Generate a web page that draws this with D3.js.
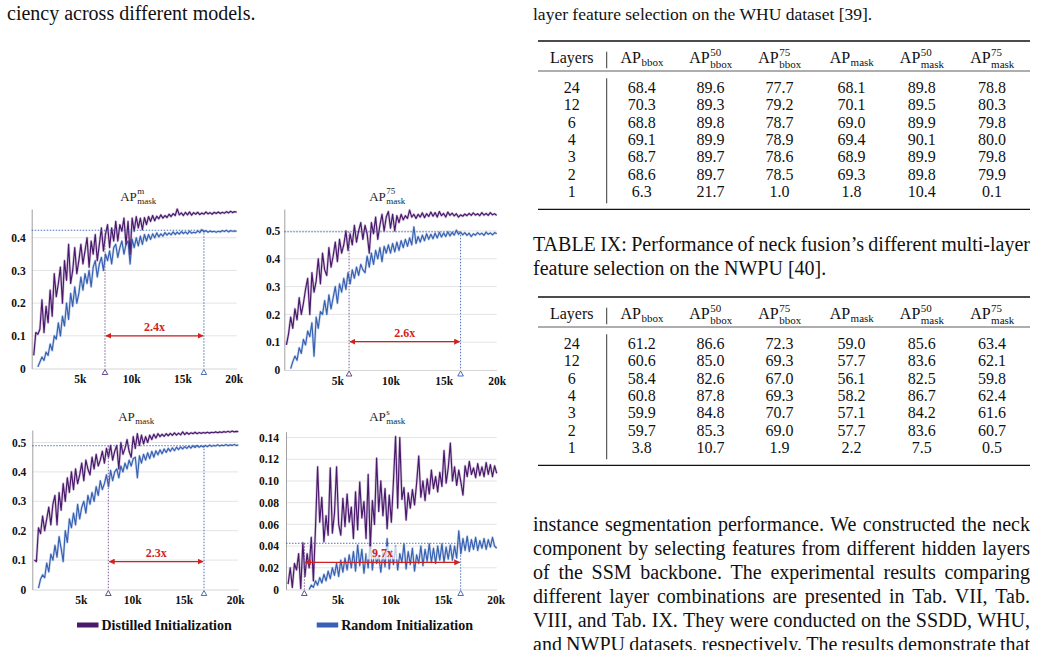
<!DOCTYPE html>
<html>
<head>
<meta charset="utf-8">
<script src="https://cdn.jsdelivr.net/npm/d3@7"></script>
<style>
  html, body { margin: 0; padding: 0; background: #fff; }
  svg { display: block; }
</style>
</head>
<body>
<svg id="page" width="1042" height="650"></svg>
<script>
const SERIF = '"Liberation Serif", "Times New Roman", serif';
const PURPLE = "#4a196c";
const BLUE = "#3761b2";
const RED = "#d21f1f";

// evaluation step (k iterations)
const ITER_K = [
  0.2, 0.4, 0.6, 0.8, 1.0, 1.2, 1.4, 1.6, 1.8, 2.0,
  2.2, 2.4, 2.6, 2.8, 3.0, 3.2, 3.4, 3.6, 3.8, 4.0,
  4.2, 4.4, 4.6, 4.8, 5.0, 5.2, 5.4, 5.6, 5.8, 6.0,
  6.2, 6.4, 6.6, 6.8, 7.0, 7.2, 7.4, 7.6, 7.8, 8.0,
  8.2, 8.4, 8.6, 8.8, 9.0, 9.2, 9.4, 9.6, 9.8, 10.0,
  10.2, 10.4, 10.6, 10.8, 11.0, 11.2, 11.4, 11.6, 11.8, 12.0,
  12.2, 12.4, 12.6, 12.8, 13.0, 13.2, 13.4, 13.6, 13.8, 14.0,
  14.2, 14.4, 14.6, 14.8, 15.0, 15.2, 15.4, 15.6, 15.8, 16.0,
  16.2, 16.4, 16.6, 16.8, 17.0, 17.2, 17.4, 17.6, 17.8, 18.0,
  18.2, 18.4, 18.6, 18.8, 19.0, 19.2, 19.4, 19.6, 19.8, 20.0
];

// AP^m_mask
const mapDistilled = [
  0.04, 0.11, 0.105, 0.12, 0.21, 0.11, 0.19, 0.14, 0.24, 0.16,
  0.29, 0.22, 0.26, 0.31, 0.20, 0.33, 0.27, 0.38, 0.26, 0.30,
  0.37, 0.29, 0.33, 0.38, 0.32, 0.36, 0.40, 0.31, 0.39, 0.35,
  0.41, 0.33, 0.38, 0.43, 0.36, 0.41, 0.44, 0.37, 0.43, 0.39,
  0.45, 0.39, 0.44, 0.42, 0.46, 0.38, 0.45, 0.35, 0.46, 0.42,
  0.465, 0.43, 0.46, 0.425, 0.462, 0.44, 0.465, 0.45, 0.468, 0.452,
  0.466, 0.458, 0.47, 0.46, 0.468, 0.462, 0.472, 0.465, 0.474, 0.468,
  0.488, 0.47, 0.476, 0.468, 0.478, 0.47, 0.479, 0.469, 0.477, 0.472,
  0.478, 0.471, 0.476, 0.472, 0.479, 0.473, 0.477, 0.472, 0.478, 0.474,
  0.479, 0.474, 0.478, 0.475, 0.48, 0.476, 0.481, 0.477, 0.48, 0.478
];
const mapRandom = [
  null, null, 0.005, 0.02, 0.035, 0.025, 0.05, 0.04, 0.075, 0.055,
  0.10, 0.09, 0.14, 0.10, 0.16, 0.13, 0.20, 0.15, 0.23, 0.19,
  0.25, 0.20, 0.23, 0.28, 0.24, 0.29, 0.26, 0.30, 0.25, 0.31,
  0.33, 0.28, 0.32, 0.34, 0.30, 0.35, 0.33, 0.36, 0.32, 0.37,
  0.38, 0.34, 0.37, 0.39, 0.35, 0.38, 0.39, 0.32, 0.395, 0.37,
  0.40, 0.375, 0.405, 0.38, 0.41, 0.39, 0.41, 0.395, 0.412, 0.40,
  0.415, 0.403, 0.412, 0.405, 0.416, 0.408, 0.415, 0.409, 0.418, 0.41,
  0.417, 0.411, 0.419, 0.413, 0.418, 0.412, 0.42, 0.414, 0.417, 0.415,
  0.421, 0.416, 0.425, 0.418, 0.422, 0.417, 0.421, 0.418, 0.42, 0.417,
  0.42, 0.418, 0.422, 0.419, 0.423, 0.418, 0.422, 0.42, 0.421, 0.42
];

// AP^75_mask
const ap75Distilled = [
  0.09, 0.13, 0.19, 0.15, 0.22, 0.18, 0.26, 0.20, 0.24, 0.29,
  0.33, 0.20, 0.35, 0.28, 0.32, 0.40, 0.31, 0.42, 0.36, 0.34,
  0.44, 0.37, 0.41, 0.46, 0.39, 0.47, 0.42, 0.45, 0.50, 0.43,
  0.49, 0.45, 0.52, 0.46, 0.50, 0.53, 0.47, 0.52, 0.49, 0.42,
  0.53, 0.49, 0.55, 0.47, 0.52, 0.56, 0.50, 0.55, 0.57, 0.51,
  0.56, 0.50, 0.555, 0.53, 0.56, 0.54, 0.555, 0.545, 0.575, 0.55,
  0.56, 0.545, 0.56, 0.55, 0.565, 0.548, 0.562, 0.552, 0.568, 0.553,
  0.566, 0.55, 0.57, 0.555, 0.563, 0.55, 0.568, 0.556, 0.564, 0.554,
  0.562, 0.55, 0.558, 0.553, 0.561, 0.555, 0.563, 0.556, 0.565, 0.557,
  0.562, 0.555, 0.566, 0.557, 0.563, 0.556, 0.566, 0.558, 0.562, 0.556
];
const ap75Random = [
  null, null, 0.005, 0.03, 0.05, 0.035, 0.08, 0.06, 0.11, 0.09,
  0.14, 0.12, 0.17, 0.05, 0.19, 0.15, 0.21, 0.20, 0.25, 0.20,
  0.27, 0.22, 0.26, 0.30, 0.24, 0.31, 0.28, 0.33, 0.29, 0.35,
  0.31, 0.36, 0.33, 0.37, 0.34, 0.38, 0.36, 0.35, 0.41, 0.37,
  0.42, 0.38, 0.43, 0.40, 0.44, 0.39, 0.445, 0.42, 0.45, 0.42,
  0.455, 0.425, 0.46, 0.43, 0.465, 0.44, 0.47, 0.445, 0.475, 0.45,
  0.515, 0.455, 0.48, 0.46, 0.485, 0.465, 0.49, 0.47, 0.488, 0.472,
  0.492, 0.475, 0.495, 0.478, 0.493, 0.48, 0.497, 0.482, 0.495, 0.485,
  0.503, 0.488, 0.496, 0.486, 0.494, 0.484, 0.492, 0.48, 0.49, 0.485,
  0.494, 0.487, 0.492, 0.484, 0.496, 0.488, 0.493, 0.486, 0.494, 0.49
];

// AP_mask
const apDistilled = [
  0.10, 0.095, 0.21, 0.19, 0.25, 0.20, 0.24, 0.28, 0.22, 0.29,
  0.32, 0.22, 0.33, 0.27, 0.36, 0.30, 0.38, 0.33, 0.40, 0.34,
  0.41, 0.36, 0.39, 0.43, 0.37, 0.44, 0.41, 0.39, 0.45, 0.41,
  0.46, 0.42, 0.44, 0.47, 0.43, 0.48, 0.45, 0.49, 0.44, 0.47,
  0.49, 0.41, 0.50, 0.46, 0.48, 0.51, 0.47, 0.45, 0.52, 0.48,
  0.53, 0.49, 0.525, 0.495, 0.52, 0.50, 0.525, 0.51, 0.528, 0.515,
  0.53, 0.52, 0.528, 0.521, 0.53, 0.523, 0.531, 0.524, 0.533, 0.525,
  0.532, 0.526, 0.536, 0.527, 0.534, 0.528, 0.533, 0.53, 0.535, 0.53,
  0.534, 0.531, 0.534, 0.532, 0.535, 0.532, 0.535, 0.533, 0.536, 0.533,
  0.536, 0.534, 0.537, 0.535, 0.538, 0.535, 0.539, 0.536, 0.538, 0.537
];
const apRandom = [
  null, null, 0.005, 0.035, 0.05, 0.04, 0.09, 0.06, 0.12, 0.10,
  0.15, 0.11, 0.18, 0.14, 0.095, 0.20, 0.16, 0.24, 0.21, 0.26,
  0.22, 0.29, 0.24, 0.28, 0.30, 0.26, 0.32, 0.29, 0.33, 0.30,
  0.35, 0.32, 0.37, 0.34, 0.36, 0.39, 0.35, 0.405, 0.37, 0.40,
  0.41, 0.38, 0.42, 0.40, 0.43, 0.41, 0.44, 0.42, 0.445, 0.45,
  0.38, 0.455, 0.43, 0.46, 0.44, 0.465, 0.445, 0.47, 0.45, 0.472,
  0.458, 0.475, 0.462, 0.478, 0.466, 0.48, 0.47, 0.482, 0.472, 0.484,
  0.476, 0.485, 0.478, 0.486, 0.48, 0.488, 0.481, 0.489, 0.483, 0.49,
  0.484, 0.489, 0.485, 0.49, 0.486, 0.491, 0.487, 0.49, 0.488, 0.492,
  0.488, 0.491, 0.489, 0.493, 0.489, 0.492, 0.49, 0.493, 0.49, 0.491
];

// AP^s_mask
const apsDistilled = [
  0.005, 0.02, 0.002, 0.024, 0.018, 0.033, 0.001, 0.043, 0.012, 0.033,
  0.02, 0.048, 0.008, 0.057, 0.113, 0.062, 0.085, 0.044, 0.068, 0.05,
  0.112, 0.052, 0.07, 0.113, 0.06, 0.05, 0.084, 0.058, 0.088, 0.062,
  0.076, 0.047, 0.09, 0.055, 0.099, 0.066, 0.081, 0.047, 0.106, 0.038,
  0.082, 0.06, 0.121, 0.072, 0.1, 0.068, 0.093, 0.056, 0.087, 0.062,
  0.1, 0.141, 0.075, 0.14, 0.083, 0.094, 0.064, 0.089, 0.075, 0.092,
  0.078, 0.098, 0.123, 0.085, 0.1, 0.082, 0.102, 0.088, 0.11, 0.093,
  0.104, 0.09, 0.108, 0.095, 0.128, 0.098, 0.112, 0.135, 0.1, 0.113,
  0.096, 0.11, 0.099, 0.087, 0.114, 0.104, 0.118, 0.106, 0.112, 0.103,
  0.116, 0.105, 0.113, 0.104, 0.117, 0.106, 0.115, 0.104, 0.114, 0.107
];
const apsRandom = [
  null, null, null, null, null, null, null, null, null, null,
  0, 0.004, 0.002, 0.008, 0.004, 0.011, 0.006, 0.014, 0.008, 0.017,
  0.01, 0.02, 0.013, 0.024, 0.012, 0.027, 0.016, 0.029, 0.018, 0.032,
  0.02, 0.035, 0.017, 0.041, 0.022, 0.037, 0.015, 0.033, 0.02, 0.043,
  0.018, 0.036, 0.024, 0.031, 0.016, 0.034, 0.021, 0.047, 0.019, 0.036,
  0.023, 0.04, 0.018, 0.033, 0.025, 0.042, 0.019, 0.035, 0.023, 0.038,
  0.017, 0.032, 0.024, 0.04, 0.022, 0.037, 0.026, 0.042, 0.025, 0.038,
  0.024, 0.04, 0.027, 0.042, 0.025, 0.039, 0.028, 0.041, 0.027, 0.04,
  0.029, 0.054, 0.033, 0.047, 0.036, 0.049, 0.035, 0.046, 0.037, 0.048,
  0.036, 0.045, 0.038, 0.047, 0.037, 0.046, 0.039, 0.048, 0.04, 0.038
];

const panelTitles = [["m", "mask"], ["75", "mask"], [null, "mask"], ["s", "mask"]];
const yDomainMax = [0.488, 0.579, 0.5425, 0.1454];
const yTicksWide = [0, 0.1, 0.2, 0.3, 0.4];
const yTicksHalf = [0, 0.1, 0.2, 0.3, 0.4, 0.5];
const yTicksSmall = [0, 0.02, 0.04, 0.06, 0.08, 0.10, 0.12, 0.14];
const xTicksK = [5, 10, 15, 20];
const xTickLabels = ["5k", "10k", "15k", "20k"];

// where each run reaches the random-init final score, and the speed-up
const distilledReachK = [7.15, 6.1, 7.38, 1.74];
const randomReachK = [16.8, 16.6, 16.67, 16.58];
const targetLevel = [0.423, 0.497, 0.489, 0.0426];
const arrowLevel = [0.1, 0.102, 0.095, 0.025];
const speedupLabels = ["2.4x", "2.6x", "2.3x", "9.7x"];

const legendLabels = ["Distilled Initialization", "Random Initialization"];

// tables
const layerCounts = ["24", "12", "6", "4", "3", "2", "1"];
const whuRows = [
  [68.4, 89.6, 77.7, 68.1, 89.8, 78.8],
  [70.3, 89.3, 79.2, 70.1, 89.5, 80.3],
  [68.8, 89.8, 78.7, 69.0, 89.9, 79.8],
  [69.1, 89.9, 78.9, 69.4, 90.1, 80.0],
  [68.7, 89.7, 78.6, 68.9, 89.9, 79.8],
  [68.6, 89.7, 78.5, 69.3, 89.8, 79.9],
  [6.3, 21.7, 1.0, 1.8, 10.4, 0.1]
];
const nwpuRows = [
  [61.2, 86.6, 72.3, 59.0, 85.6, 63.4],
  [60.6, 85.0, 69.3, 57.7, 83.6, 62.1],
  [58.4, 82.6, 67.0, 56.1, 82.5, 59.8],
  [60.8, 87.8, 69.3, 58.2, 86.7, 62.4],
  [59.9, 84.8, 70.7, 57.1, 84.2, 61.6],
  [59.7, 85.3, 69.0, 57.7, 83.6, 60.7],
  [3.8, 10.7, 1.9, 2.2, 7.5, 0.5]
];
const headerScripts = [[null, "bbox"], ["50", "bbox"], ["75", "bbox"], [null, "mask"], ["50", "mask"], ["75", "mask"]];

const bodyLines = [
  "instance segmentation performance. We constructed the neck",
  "component by selecting features from different hidden layers",
  "of the SSM backbone. The experimental results comparing",
  "different layer combinations are presented in Tab. VII, Tab.",
  "VIII, and Tab. IX. They were conducted on the SSDD, WHU,",
  "and NWPU datasets, respectively. The results demonstrate that"
];

const svg = d3.select("#page");
svg.append("rect").attr("width", 1042).attr("height", 650).attr("fill", "#fff");

const defs = svg.append("defs");
defs.append("marker")
  .attr("id", "redHead")
  .attr("viewBox", "0 0 10 10")
  .attr("refX", 9).attr("refY", 5)
  .attr("markerWidth", 6).attr("markerHeight", 6)
  .attr("markerUnits", "userSpaceOnUse")
  .attr("orient", "auto-start-reverse")
  .append("path")
  .attr("d", "M0,0 L10,5 L0,10 Z")
  .attr("fill", RED);

const BOXES = [
  { left: 31.7, right: 236.7, top: 209, bottom: 368.5, titleX: 138, titleY: 200.5, yPad: 6, xDx: -3 },
  { left: 284.3, right: 496.7, top: 209, bottom: 370, titleX: 387, titleY: 200.5, yPad: 4, xDx: 0 },
  { left: 32.3, right: 238.3, top: 430, bottom: 589.5, titleX: 136, titleY: 421, yPad: 6, xDx: -3 },
  { left: 286, right: 496.7, top: 431.7, bottom: 589.5, titleX: 387, titleY: 421, yPad: 7, xDx: -1 }
];

const panelSeries = [
  [mapDistilled, mapRandom],
  [ap75Distilled, ap75Random],
  [apDistilled, apRandom],
  [apsDistilled, apsRandom]
];
const panelYTicks = [yTicksWide, yTicksHalf, yTicksHalf, yTicksSmall];

function scriptLabel(g, cx, baseline, main, sup, sub, size, scriptSize, supDy, subDy, color) {
  const t = g.append("text").attr("y", baseline).attr("font-size", size)
    .attr("font-family", SERIF).attr("fill", color).text(main);
  const w = t.node().getComputedTextLength();
  let ws = 0, wb = 0, sSup = null, sSub = null;
  if (sup) {
    sSup = g.append("text").attr("y", baseline + supDy).attr("font-size", scriptSize)
      .attr("font-family", SERIF).attr("fill", color).text(sup);
    ws = sSup.node().getComputedTextLength();
  }
  if (sub) {
    sSub = g.append("text").attr("y", baseline + subDy).attr("font-size", scriptSize)
      .attr("font-family", SERIF).attr("fill", color).text(sub);
    wb = sSub.node().getComputedTextLength();
  }
  const x0 = cx - (w + Math.max(ws, wb)) / 2;
  t.attr("x", x0);
  if (sSup) sSup.attr("x", x0 + w + 0.5);
  if (sSub) sSub.attr("x", x0 + w + 0.5);
}

function drawPanel(i) {
  const b = BOXES[i];
  const [distilled, random] = panelSeries[i];
  const ticks = panelYTicks[i];
  const fmt = i === 3 ? (d => d === 0 ? "0" : d3.format(".2f")(d)) : (d => d === 0 ? "0" : d3.format(".1f")(d));

  const x = d3.scaleLinear().domain([0, 20]).range([b.left, b.right]);
  const y = d3.scaleLinear().domain([0, yDomainMax[i]]).range([b.bottom, b.top]);
  const g = svg.append("g");

  g.append("g").selectAll("line")
    .data(ticks.filter(t => t > 0))
    .join("line")
    .attr("x1", b.left).attr("x2", b.right)
    .attr("y1", d => y(d)).attr("y2", d => y(d))
    .attr("stroke", "#e4e4e4").attr("stroke-width", 1);

  const xAxis = g.append("g")
    .attr("transform", `translate(0,${b.bottom})`)
    .call(d3.axisBottom(x).tickValues(xTicksK).tickSize(0).tickPadding(6.5)
      .tickFormat((d, k) => xTickLabels[k]));
  xAxis.select(".domain").attr("stroke", "#d6d6d6");
  xAxis.selectAll("text").attr("font-family", SERIF).attr("font-weight", "bold")
    .attr("font-size", 11.5).attr("fill", "#111").attr("dx", b.xDx);

  const yAxis = g.append("g")
    .attr("transform", `translate(${b.left},0)`)
    .call(d3.axisLeft(y).tickValues(ticks).tickSize(0).tickPadding(b.yPad).tickFormat(fmt));
  yAxis.select(".domain").attr("stroke", "#a0a0a0");
  yAxis.selectAll("text").attr("font-family", SERIF).attr("font-weight", "bold")
    .attr("font-size", 11.5).attr("fill", "#111");

  const pts = ITER_K.map((k, j) => [k, random[j]]);
  const ptsD = ITER_K.map((k, j) => [k, distilled[j]]);
  const line = d3.line().defined(d => d[1] != null).x(d => x(d[0])).y(d => y(d[1]));

  // soft halo under each series, like the antialiased source plot
  [[pts, BLUE], [ptsD, PURPLE]].forEach(([p, c]) => {
    g.append("path").attr("d", line(p)).attr("fill", "none")
      .attr("stroke", c).attr("stroke-opacity", 0.22).attr("stroke-width", 2.6)
      .attr("stroke-linejoin", "round");
    g.append("path").attr("d", line(p)).attr("fill", "none")
      .attr("stroke", c).attr("stroke-width", 1.2).attr("stroke-linejoin", "round");
  });

  // reach markers
  const xd = x(distilledReachK[i]);
  const xr = x(randomReachK[i]);
  const yl = y(targetLevel[i]);
  g.append("line").attr("x1", b.left).attr("x2", xr).attr("y1", yl).attr("y2", yl)
    .attr("stroke", BLUE).attr("stroke-width", 0.9).attr("stroke-dasharray", "1.5 1.5");
  g.append("line").attr("x1", xd).attr("x2", xd).attr("y1", yl).attr("y2", b.bottom)
    .attr("stroke", "#6c4b8c").attr("stroke-width", 0.9).attr("stroke-dasharray", "1.5 1.5");
  g.append("line").attr("x1", xr).attr("x2", xr).attr("y1", yl).attr("y2", b.bottom)
    .attr("stroke", BLUE).attr("stroke-width", 0.9).attr("stroke-dasharray", "1.5 1.5");

  [[xd, "#5a3a7c"], [xr, BLUE]].forEach(([tx, c]) => {
    g.append("path")
      .attr("d", `M${tx},${b.bottom + 1} L${tx + 2.8},${b.bottom + 6} L${tx - 2.8},${b.bottom + 6} Z`)
      .attr("fill", "#fff").attr("stroke", c).attr("stroke-width", 0.9);
  });

  const ya = y(arrowLevel[i]);
  const mid = (xd + xr) / 2;
  if (i === 3) {
    g.append("rect").attr("x", mid - 16).attr("y", ya - 16).attr("width", 32).attr("height", 13)
      .attr("fill", "#fff").attr("opacity", 0.7);
  }
  g.append("line").attr("x1", xd + 1).attr("x2", xr - 1).attr("y1", ya).attr("y2", ya)
    .attr("stroke", RED).attr("stroke-width", 1.3)
    .attr("marker-start", "url(#redHead)").attr("marker-end", "url(#redHead)");
  g.append("text").attr("x", mid).attr("y", ya - 5).attr("text-anchor", "middle")
    .attr("font-family", SERIF).attr("font-weight", "bold").attr("font-size", 12)
    .attr("fill", RED).text(speedupLabels[i]);

  // title
  const [sup, sub] = panelTitles[i];
  scriptLabel(g, b.titleX, b.titleY, "AP", sup, sub, 13, 9, -6.5, 3, "#222");
}

[0, 1, 2, 3].forEach(drawPanel);

// legend
const legendItems = [
  { x: 77, color: PURPLE, label: legendLabels[0] },
  { x: 316.7, color: BLUE, label: legendLabels[1] }
];
legendItems.forEach(it => {
  svg.append("rect").attr("x", it.x).attr("y", 622.5).attr("width", 21.5).attr("height", 5).attr("fill", it.color);
  svg.append("text").attr("x", it.x + 24.5).attr("y", 630).attr("font-family", SERIF)
    .attr("font-weight", "bold").attr("font-size", 14).attr("fill", "#111").text(it.label);
});

// text helpers
function textLine(str, x0, x1, baseline, size, justify) {
  const g = svg.append("g");
  const words = str.split(" ");
  const nodes = words.map(w => g.append("text").attr("y", baseline).attr("font-size", size)
    .attr("font-family", SERIF).attr("fill", "#111").text(w));
  const widths = nodes.map(n => n.node().getComputedTextLength());
  const gap = justify && words.length > 1 ? (x1 - x0 - d3.sum(widths)) / (words.length - 1) : size * 0.25;
  let cx = x0;
  nodes.forEach((n, k) => { n.attr("x", cx); cx += widths[k] + gap; });
}

textLine("ciency across different models.", 7, 258, 20, 20, false);
textLine("layer feature selection on the WHU dataset [39].", 533, 1030, 20, 17.5, false);
textLine("TABLE IX: Performance of neck fusion\u2019s different multi-layer", 533, 1030, 251, 20, true);
textLine("feature selection on the NWPU [40].", 533, 1030, 275, 20, false);
bodyLines.forEach((l, k) => textLine(l, 533, 1030, 531 + k * 24, 20, true));

// tables
const colX = [571.7, 641.7, 710.5, 779.5, 851.5, 921.7, 992];
function drawTable(top, rows) {
  const g = svg.append("g");
  g.append("line").attr("x1", 538).attr("x2", 1030).attr("y1", top).attr("y2", top)
    .attr("stroke", "#111").attr("stroke-width", 1.3);
  g.append("line").attr("x1", 538).attr("x2", 1030).attr("y1", top + 30).attr("y2", top + 30)
    .attr("stroke", "#333").attr("stroke-width", 0.8);
  g.append("line").attr("x1", 538).attr("x2", 1030).attr("y1", top + 168.3).attr("y2", top + 168.3)
    .attr("stroke", "#111").attr("stroke-width", 1.3);
  g.append("line").attr("x1", 606.7).attr("x2", 606.7).attr("y1", top + 10.7).attr("y2", top + 27.3)
    .attr("stroke", "#222").attr("stroke-width", 0.9);
  g.append("line").attr("x1", 606.7).attr("x2", 606.7).attr("y1", top + 37.3).attr("y2", top + 162.3)
    .attr("stroke", "#222").attr("stroke-width", 0.9);

  const hb = top + 22;
  g.append("text").attr("x", colX[0]).attr("y", hb).attr("text-anchor", "middle")
    .attr("font-family", SERIF).attr("font-size", 16).attr("fill", "#111").text("Layers");
  headerScripts.forEach(([sup, sub], k) => {
    scriptLabel(g, colX[k + 1], hb, "AP", sup, sub, 16, 11, -7, sup ? 4.5 : 3, "#111");
  });

  rows.forEach((r, ri) => {
    const yb = top + 51.7 + ri * 17.4;
    g.append("text").attr("x", colX[0]).attr("y", yb).attr("text-anchor", "middle")
      .attr("font-family", SERIF).attr("font-size", 16).attr("fill", "#111").text(layerCounts[ri]);
    r.forEach((v, ci) => {
      g.append("text").attr("x", colX[ci + 1]).attr("y", yb).attr("text-anchor", "middle")
        .attr("font-family", SERIF).attr("font-size", 16).attr("fill", "#111").text(v.toFixed(1));
    });
  });
}
drawTable(41, whuRows);
drawTable(297, nwpuRows);
</script>
</body>
</html>
